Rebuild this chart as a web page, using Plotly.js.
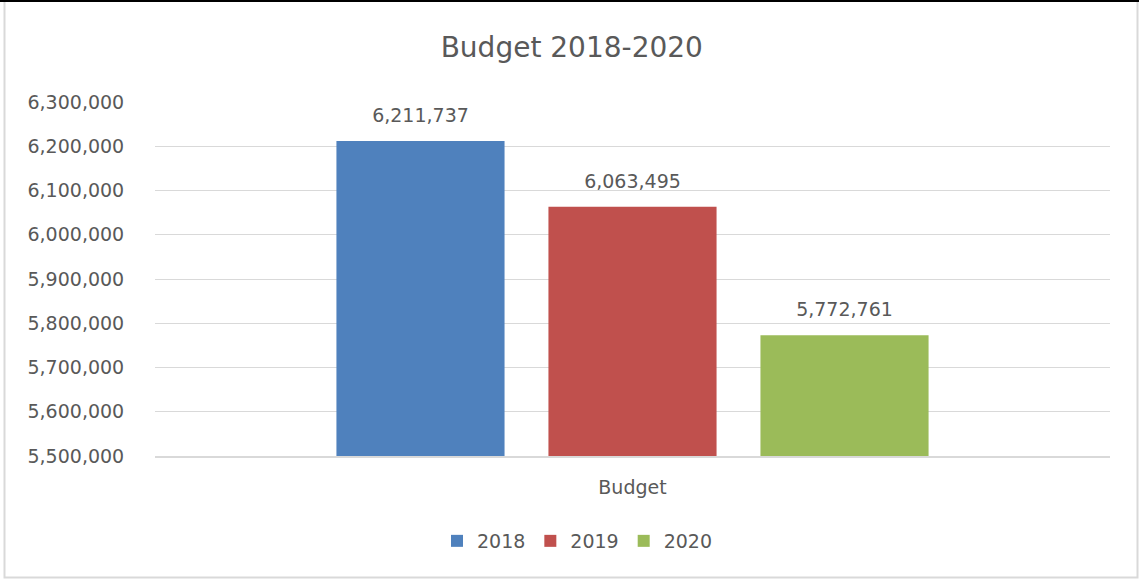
<!DOCTYPE html>
<html>
<head>
<meta charset="utf-8">
<script src="https://cdn.plot.ly/plotly-3.0.1.min.js"></script>
<style>
  html, body { margin: 0; padding: 0; background: #ffffff; }
  #chart { width: 1139px; height: 580px; }
</style>
</head>
<body>
<div id="chart"></div>
<script>
const categories = ["Budget"];
const years = ["2018", "2019", "2020"];
const budget2018 = [6211737];
const budget2019 = [6063495];
const budget2020 = [5772761];
const seriesValues = [budget2018, budget2019, budget2020];
const seriesColors = ["#4F81BD", "#C0504D", "#9BBB59"];
const yTickVals = [5500000, 5600000, 5700000, 5800000, 5900000, 6000000, 6100000, 6200000, 6300000];

const FONT = "DejaVu Sans, Verdana, sans-serif";
const TXT = "#595959";
const GRID = "#d9d9d9";

const traces = [];
years.forEach((yr, i) => {
  traces.push({
    type: "bar",
    name: yr,
    x: categories,
    y: seriesValues[i],
    marker: { color: seriesColors[i] },
    hoverinfo: "name+y"
  });
});
years.forEach((yr, i) => {
  traces.push({
    type: "scatter",
    mode: "markers+text",
    name: yr + " label",
    x: categories,
    y: seriesValues[i],
    text: seriesValues[i].map(v => v.toLocaleString("en-US")),
    textposition: "top center",
    textfont: { family: FONT, size: 19, color: TXT },
    marker: { size: 21, opacity: 0, color: seriesColors[i] },
    showlegend: false,
    hoverinfo: "skip",
    cliponaxis: false
  });
});

const layout = {
  width: 1139,
  height: 580,
  paper_bgcolor: "#ffffff",
  plot_bgcolor: "#ffffff",
  margin: { l: 155, r: 29, t: 102, b: 124, pad: 0 },
  font: { family: FONT, color: TXT, size: 19 },
  title: {
    text: "Budget 2018-2020",
    font: { family: FONT, size: 28, color: TXT },
    x: 0.502, xref: "container", xanchor: "center",
    y: 1 - 47 / 580, yref: "container", yanchor: "middle"
  },
  barmode: "group",
  bargap: 0.334,
  bargroupgap: 0.207,
  scattermode: "group",
  scattergap: 0.334,
  xaxis: {
    type: "category",
    showgrid: false,
    showline: true,
    linecolor: GRID,
    linewidth: 2,
    ticks: "outside",
    ticklen: 13,
    tickcolor: "rgba(0,0,0,0)",
    tickfont: { family: FONT, size: 19, color: TXT },
    fixedrange: true
  },
  yaxis: {
    range: [5500000, 6300000],
    tickvals: yTickVals,
    tickformat: ",d",
    showgrid: true,
    gridcolor: GRID,
    gridwidth: 1,
    zeroline: false,
    showline: false,
    ticks: "outside",
    ticklen: 26,
    tickcolor: "rgba(0,0,0,0)",
    tickfont: { family: FONT, size: 19, color: TXT },
    fixedrange: true
  },
  showlegend: true,
  legend: {
    orientation: "h",
    xref: "container", yref: "container",
    x: 0.507, xanchor: "center",
    y: 1 - 541 / 580, yanchor: "middle",
    font: { family: FONT, size: 19, color: TXT },
    traceorder: "normal",
    itemclick: false, itemdoubleclick: false
  },
  shapes: [
    { type: "rect", xref: "paper", yref: "paper",
      x0: (4.5 - 155) / 955, x1: (1137.5 - 155) / 955,
      y0: (456 - 577.5) / 354, y1: (456 - 1) / 354,
      line: { color: GRID, width: 2 }, fillcolor: "rgba(0,0,0,0)", layer: "below" },
    { type: "line", xref: "paper", yref: "paper",
      x0: (0 - 155) / 955, x1: (1139 - 155) / 955,
      y0: (456 - 1) / 354, y1: (456 - 1) / 354,
      line: { color: "#000000", width: 2 } }
  ]
};

Plotly.newPlot("chart", traces, layout, { displayModeBar: false, staticPlot: true });
</script>
</body>
</html>
